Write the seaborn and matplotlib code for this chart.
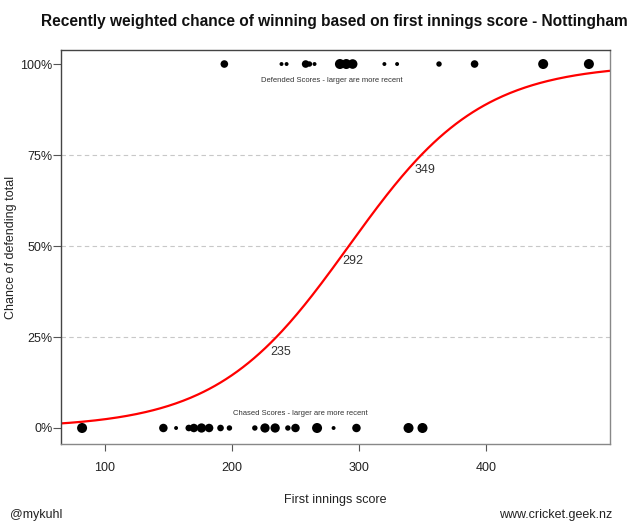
import numpy as np
import pandas as pd
import matplotlib
matplotlib.use("Agg")
import matplotlib.pyplot as plt
import seaborn as sns

# first innings scores, recency weight (1 = most recent)
defended_scores = [194, 239, 243, 258, 261, 265, 285, 290, 295, 320, 330, 363, 391, 445, 481]
defended_weight = [0.7, 0.4, 0.4, 0.7, 0.5, 0.4, 1.0, 1.0, 0.95, 0.4, 0.4, 0.5, 0.7, 1.0, 1.0]

chased_scores = [82, 146, 156, 166, 170, 176, 182, 191, 198, 218, 226, 234, 244, 250, 267, 280, 298, 339, 350]
chased_weight = [1.0, 0.8, 0.4, 0.6, 0.8, 0.9, 0.8, 0.6, 0.5, 0.5, 0.9, 0.9, 0.5, 0.8, 1.0, 0.4, 0.8, 1.0, 1.0]

# scores where the fitted chance is 25%, 50%, 75%
quartile_scores = [235, 292, 349]
quartile_probs = [0.25, 0.50, 0.75]

sns.set_theme(style="white")
plt.rcParams['font.family'] = ['Liberation Sans', 'DejaVu Sans']

fig = plt.figure(figsize=(6.4, 5.22), dpi=100)
ax = fig.add_axes([0.0953, 0.1494, 0.8578, 0.7548])

pts = pd.concat([
    pd.DataFrame({'score': defended_scores, 'won': 1.0, 'w': defended_weight}),
    pd.DataFrame({'score': chased_scores, 'won': 0.0, 'w': chased_weight}),
])

# logistic fit defined by its midpoint and quartile spread
mid = quartile_scores[1]
scale = (quartile_scores[2] - quartile_scores[0]) / (2 * np.log(3))
xs = np.linspace(60, 500, 300)
curve = pd.DataFrame({'score': xs, 'p': 1 / (1 + np.exp(-(xs - mid) / scale))})

for yv in [0.25, 0.5, 0.75]:
    ax.axhline(yv, color='#c8c8c8', linestyle=(0, (4, 3)), linewidth=0.8, zorder=0)

sns.lineplot(data=curve, x='score', y='p', ax=ax, color='red', linewidth=1.6, zorder=2)
sns.scatterplot(data=pts, x='score', y='won', size='w', sizes=(8, 52), size_norm=(0.4, 1.0),
                color='black', linewidth=0, legend=False, ax=ax, zorder=3)

for s, p in zip(quartile_scores, quartile_probs):
    ax.text(s - 5, p - 0.024, str(s), ha='left', va='top', fontsize=9, color='#333333')

ax.text(279, 0.956, 'Defended Scores - larger are more recent', ha='center', va='center',
        fontsize=5.5, color='#333333')
ax.text(254, 0.041, 'Chased Scores - larger are more recent', ha='center', va='center',
        fontsize=5.5, color='#333333')

ax.set_xlim(65.4, 497.6)
ax.set_ylim(-0.044, 1.0385)
ax.set_xticks([100, 200, 300, 400])
ax.set_yticks([0, 0.25, 0.5, 0.75, 1.0])
ax.set_yticklabels(['0%', '25%', '50%', '75%', '100%'])
ax.tick_params(axis='both', direction='out', width=0.8, color='#555555',
               labelsize=9, labelcolor='#222222', bottom=True, left=True)
ax.tick_params(axis='x', length=5, pad=8)
ax.tick_params(axis='y', length=6, pad=0)

ax.set_xlabel('First innings score', fontsize=9, color='#222222')
ax.set_ylabel('Chance of defending total', fontsize=9, color='#222222')
ax.xaxis.set_label_coords(0.5, -0.127)
ax.yaxis.set_label_coords(-0.081, 0.5)

for side, col in [('left', '#444444'), ('top', '#444444'), ('right', '#888888'), ('bottom', '#888888')]:
    ax.spines[side].set_visible(True)
    ax.spines[side].set_color(col)
    ax.spines[side].set_linewidth(1.0)

fig.text(0.522, 0.958, 'Recently weighted chance of winning based on first innings score - Nottingham',
         ha='center', va='center', fontsize=11.2, fontweight='bold', color='#111111')
fig.text(0.016, 0.0134, '@mykuhl', ha='left', va='center', fontsize=9, color='#222222')
fig.text(0.956, 0.0134, 'www.cricket.geek.nz', ha='right', va='center', fontsize=9, color='#222222')

fig.savefig('out.png', dpi=100)
